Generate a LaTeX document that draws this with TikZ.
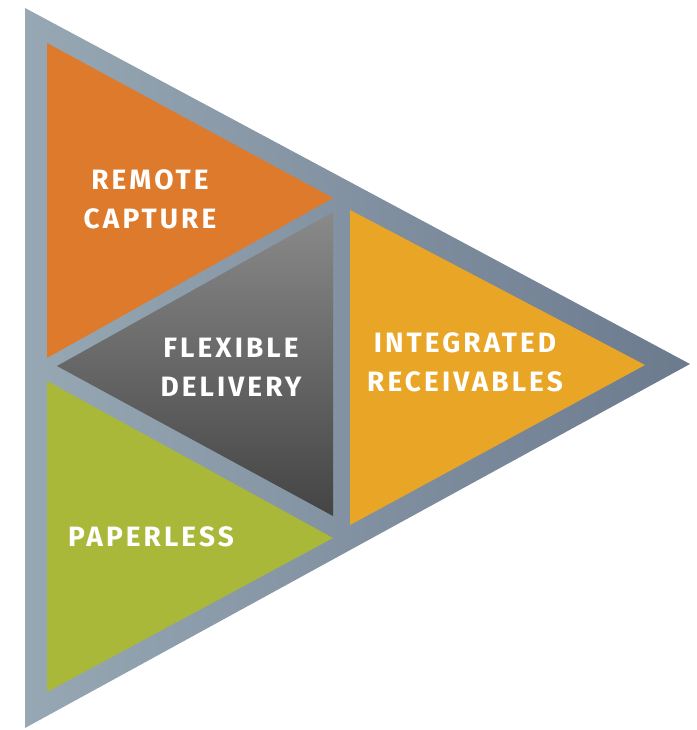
\documentclass[tikz,border=0pt]{standalone}
\usepackage{fontspec}
\setmainfont{Fira Sans}
\newfontfamily\labelfont[LetterSpace=11]{Fira Sans}
\definecolor{frame}{HTML}{8193A3}
\definecolor{framelight}{HTML}{97A8B4}
\definecolor{framedark}{HTML}{6C7A8E}
\definecolor{orng}{HTML}{DE7A2C}
\definecolor{yell}{HTML}{E9A626}
\definecolor{grn}{HTML}{AAB83A}
\definecolor{cgrayA}{HTML}{8A8A8A}
\definecolor{cgrayB}{HTML}{444444}
\tikzset{
  lbl/.style={text=white, font=\labelfont\bfseries\fontsize{28}{39}\selectfont, align=center, inner sep=0pt},
}
\begin{document}
\begin{tikzpicture}[x=1pt,y=-1pt]
\useasboundingbox (0,0) rectangle (696,730);
% outer frame
\coordinate (oTL) at (25,8);
\coordinate (oBL) at (25,728);
\coordinate (oR) at (690,364);
\shade[left color=framelight, right color=framedark] (oTL) -- (oR) -- (oBL) -- cycle;
% orange
\coordinate (rTL) at (47,43);
\coordinate (rBL) at (47,358);
\coordinate (rR) at (333,198);
\fill[orng] (rTL) -- (rR) -- (rBL) -- cycle;
% center gray
\coordinate (cT) at (333,212);
\coordinate (cB) at (333,516);
\coordinate (cL) at (57,366);
\shade[shading angle=135, top color=cgrayA, bottom color=cgrayB] (cT) -- (cB) -- (cL) -- cycle;
% yellow
\coordinate (yT) at (350,210);
\coordinate (yB) at (350,525);
\coordinate (yR) at (645,365);
\fill[yell] (yT) -- (yR) -- (yB) -- cycle;
% green
\coordinate (gT) at (47,381);
\coordinate (gB) at (47,692);
\coordinate (gR) at (333,538);
\fill[grn] (gT) -- (gR) -- (gB) -- cycle;
% labels
\node[lbl] (remote) at (150,199) {REMOTE\\CAPTURE};
\node[lbl] (flex) at (231,367) {FLEXIBLE\\DELIVERY};
\node[lbl] (integ) at (465,362) {INTEGRATED\\RECEIVABLES};
\node[lbl, anchor=west] (paper) at (68,537) {PAPERLESS};
\end{tikzpicture}
\end{document}
